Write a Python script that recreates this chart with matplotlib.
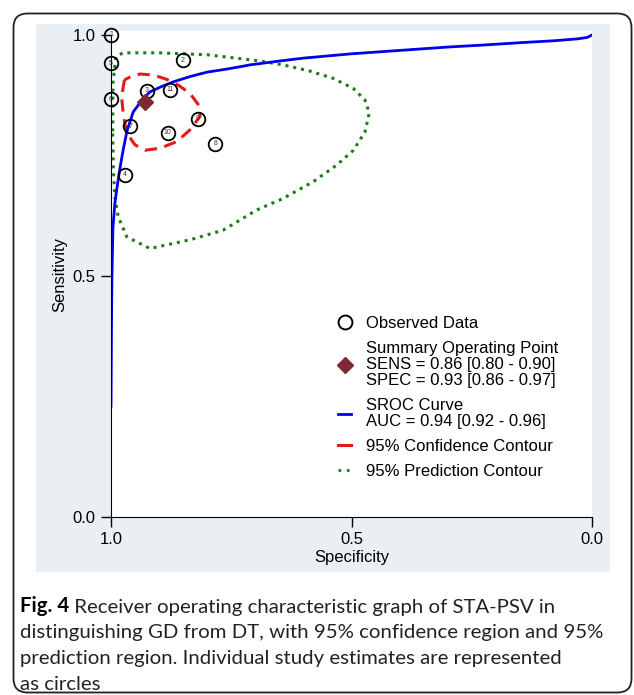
import matplotlib.pyplot as plt
from matplotlib.lines import Line2D
from matplotlib.patches import Rectangle, FancyBboxPatch

# --- individual study estimates (specificity, sensitivity) ---
study_ids = ['1', '2', '3', '4', '5', '6', '7', '8', '9', '10', '11']
study_spec = [1.000, 0.851, 0.925, 0.971, 1.000, 1.000, 0.960, 0.783, 0.820, 0.882, 0.877]
study_sens = [1.000, 0.948, 0.884, 0.710, 0.941, 0.867, 0.811, 0.774, 0.826, 0.797, 0.886]

# summary operating point
summary_spec = 0.93
summary_sens = 0.86

# SROC curve
sroc_spec = [1.000, 0.999, 0.998, 0.996, 0.992, 0.988, 0.982, 0.975, 0.967, 0.954,
             0.935, 0.919, 0.895, 0.870, 0.835, 0.800, 0.755, 0.711, 0.650, 0.600,
             0.500, 0.400, 0.300, 0.229, 0.150, 0.080, 0.030, 0.010, 0.000]
sroc_sens = [0.230, 0.400, 0.500, 0.600, 0.650, 0.680, 0.720, 0.760, 0.800, 0.840,
             0.866, 0.882, 0.893, 0.903, 0.914, 0.923, 0.930, 0.938, 0.946, 0.952,
             0.961, 0.968, 0.975, 0.979, 0.984, 0.988, 0.992, 0.995, 1.000]

# 95% confidence contour
conf_spec = [0.972, 0.978, 0.974, 0.967, 0.950, 0.929, 0.898, 0.863, 0.836, 0.815,
             0.815, 0.836, 0.860, 0.884, 0.912, 0.940, 0.960, 0.972]
conf_sens = [0.907, 0.872, 0.831, 0.796, 0.772, 0.761, 0.765, 0.779, 0.803, 0.831,
             0.851, 0.879, 0.896, 0.908, 0.917, 0.919, 0.913, 0.907]

# 95% prediction contour
pred_spec = [0.9965, 0.996, 0.990, 0.975, 0.900, 0.800, 0.732, 0.690, 0.642, 0.586,
             0.538, 0.496, 0.472, 0.463, 0.472, 0.496, 0.531, 0.579, 0.642, 0.697,
             0.767, 0.836, 0.919, 0.967, 0.985, 0.992, 0.995, 0.9965]
pred_sens = [0.800, 0.900, 0.955, 0.963, 0.963, 0.959, 0.951, 0.946, 0.938, 0.925,
             0.910, 0.889, 0.865, 0.838, 0.799, 0.761, 0.730, 0.696, 0.661, 0.637,
             0.595, 0.575, 0.557, 0.581, 0.623, 0.664, 0.720, 0.800]

caption_bold = 'Fig. 4'
caption_lines = [' Receiver operating characteristic graph of STA-PSV in',
                 'distinguishing GD from DT, with 95% confidence region and 95%',
                 'prediction region. Individual study estimates are represented',
                 'as circles']

W, H = 634, 695
plt.rcParams['font.family'] = ['Liberation Sans', 'DejaVu Sans']
fig = plt.figure(figsize=(W / 100, H / 100), dpi=100)

# light panel behind the graph + outer rounded frame
fig.patches.append(Rectangle((36 / W, 1 - 572 / H), (610 - 36) / W, (572 - 24) / H,
                             transform=fig.transFigure, facecolor='#e9eff2',
                             edgecolor='none', zorder=-2))
fig.patches.append(FancyBboxPatch((0.135, 0.025), 6.18, 6.79,
                                  boxstyle='round,pad=0,rounding_size=0.14',
                                  transform=fig.dpi_scale_trans, facecolor='none',
                                  edgecolor='#222222', linewidth=1.3, zorder=-1))

ax = fig.add_axes([111 / W, 1 - 517 / H, (592 - 111) / W, (517 - 31) / H])
ax.set_facecolor('white')
ax.set_xlim(1.0, 0.0)
ax.set_ylim(0.0, (517 - 31) / 482)

ax.plot(pred_spec, pred_sens, color='#1e7b1e', linestyle=(0, (1, 1.6)), linewidth=2.2)
ax.plot(conf_spec, conf_sens, color='#e41a1c', linestyle=(0, (4, 2.5)), linewidth=2.2)
ax.plot(sroc_spec, sroc_sens, color='#0000ee', linewidth=2.0)
ax.plot(study_spec, study_sens, linestyle='none', marker='o', markersize=9.8,
        markerfacecolor='none', markeredgecolor='black', markeredgewidth=1.3, clip_on=False)
for sid, sp, se in zip(study_ids, study_spec, study_sens):
    ax.text(sp, se, sid, fontsize=5, ha='center', va='center', color='#333333', clip_on=False)
ax.plot([summary_spec], [summary_sens], linestyle='none', marker='D', markersize=8,
        color='#7d2a33')

for s in ['top', 'right']:
    ax.spines[s].set_visible(False)
ax.spines['left'].set_bounds(0, 1)
ax.set_xticks([1.0, 0.5, 0.0])
ax.set_yticks([0.0, 0.5, 1.0])
ax.set_xticklabels(['1.0', '0.5', '0.0'])
ax.set_yticklabels(['0.0', '0.5', '1.0'])
ax.tick_params(labelsize=12, length=7, width=1, pad=4)
ax.set_xlabel('Specificity', fontsize=12)
ax.set_ylabel('Sensitivity', fontsize=12)
ax.xaxis.set_label_coords(0.5, -(550 - 517) / 486)
ax.yaxis.set_label_coords(-(111 - 67) / 481, 0.5)

handles = [
    Line2D([], [], linestyle='none', marker='o', markersize=10, markerfacecolor='none',
           markeredgecolor='black', markeredgewidth=1.4),
    Line2D([], [], linestyle='none', marker='D', markersize=8, color='#7d2a33'),
    Line2D([], [], color='#0000ee', linewidth=2),
    Line2D([], [], color='#e41a1c', linewidth=2.2),
    Line2D([], [], color='#1e7b1e', linestyle=(0, (1, 2)), linewidth=2),
]
labels = ['Observed Data',
          'Summary Operating Point\nSENS = 0.86 [0.80 - 0.90]\nSPEC = 0.93 [0.86 - 0.97]',
          'SROC Curve\nAUC = 0.94 [0.92 - 0.96]',
          '95% Confidence Contour',
          '95% Prediction Contour']
leg = ax.legend(handles, labels, loc='upper left', bbox_to_anchor=(338 / W, 1 - 316 / H),
                bbox_transform=fig.transFigure, frameon=False, fontsize=12,
                handlelength=0.8, handletextpad=0.85, labelspacing=0.6, borderpad=0,
                borderaxespad=0)
for t in leg.get_texts():
    t.set_linespacing(1.08)

# caption
cap_fs = 14.7
cap_y = [612, 638, 664, 690]
t0 = fig.text(20 / W, 1 - cap_y[0] / H, caption_bold, fontsize=cap_fs, fontweight='bold',
              family=['Lato', 'DejaVu Sans'], va='baseline')
ax.annotate(caption_lines[0], xy=(1, 0), xycoords=t0, va='bottom', ha='left',
            fontsize=cap_fs, family=['Lato', 'DejaVu Sans'], color='#222222',
            annotation_clip=False)
for yy, line in zip(cap_y[1:], caption_lines[1:]):
    fig.text(20 / W, 1 - yy / H, line, fontsize=cap_fs, family=['Lato', 'DejaVu Sans'],
             va='baseline', color='#222222')

fig.savefig('out.png', dpi=100)
